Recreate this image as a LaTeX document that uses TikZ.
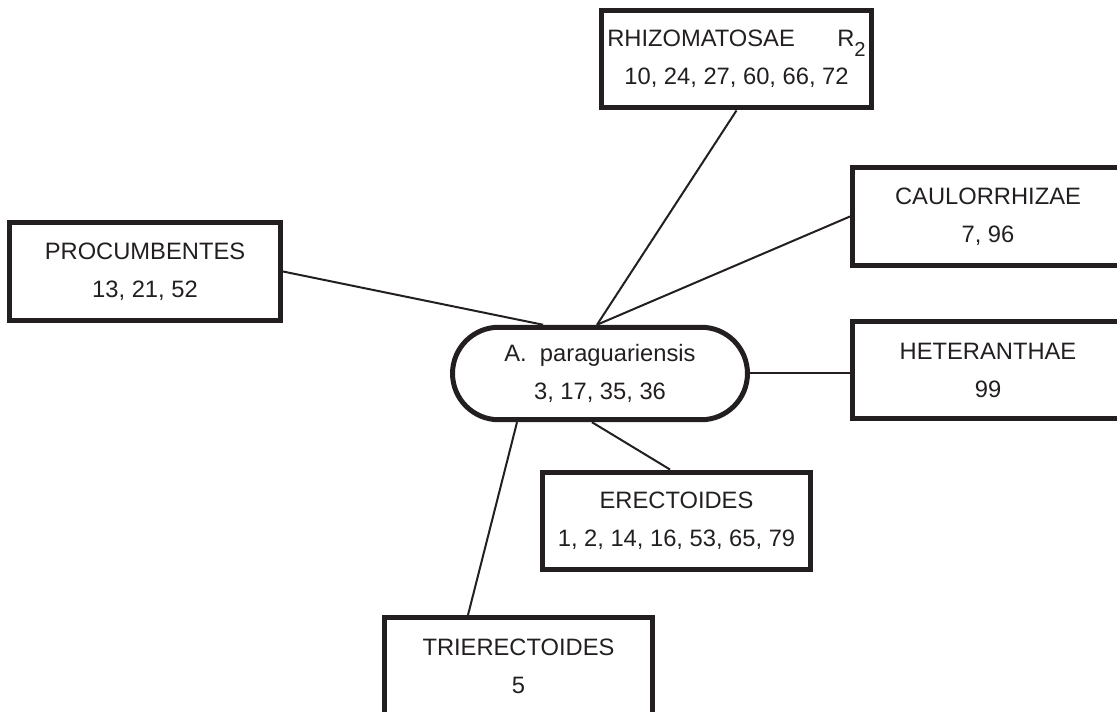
\documentclass[tikz,border=0pt]{standalone}
\usepackage{fontspec}
\setmainfont{Liberation Sans}
\usetikzlibrary{shapes.misc}
\definecolor{ink}{HTML}{231F20}
\newcommand{\lowtwo}{\raisebox{-0.4em}{\fontsize{11.5}{12}\selectfont 2}}

\begin{document}
\begin{tikzpicture}[x=0.02cm,y=-0.02cm,
        groupbox/.style={draw=ink, line width=0.1cm, minimum width=5.42cm,
            minimum height=1.96cm, inner sep=0pt, align=center, text=ink,
            font=\fontsize{13.5}{21.6}\selectfont},
        speciesbox/.style={groupbox, rounded rectangle, minimum width=5.9cm,
            minimum height=1.85cm},
        link/.style={draw=ink, line width=0.04cm}]
        % Page size of the reference
        \useasboundingbox (0,0) rectangle (1117,712);
        \clip (0,0) rectangle (1117,712);
        % Species in the middle
        \node[speciesbox] (para) at (600,373.5) {A.\ \ paraguariensis\\3, 17, 35, 36};
        % Sections round it
        \node[groupbox] (rhiz) at (736.5,59) {RHIZOMATOSAE\hspace{0.85cm}R\lowtwo\\10, 24, 27, 60, 66, 72};
        \node[groupbox] (caul) at (988,216.5) {CAULORRHIZAE\\7, 96};
        \node[groupbox] (proc) at (145,271.5) {PROCUMBENTES\\13, 21, 52};
        \node[groupbox] (heter) at (988,370) {HETERANTHAE\\99};
        \node[groupbox, minimum width=5.36cm] (erect) at (676.5,521) {ERECTOIDES\\1, 2, 14, 16, 53, 65, 79};
        \node[groupbox, minimum width=5.36cm] (trier) at (518.5,666.5) {TRIERECTOIDES\\5};
        % Links to the species
        \draw[link] (proc.east) -- ([xshift=-1.14cm]para.north);
        \draw[link] (rhiz.south) -- ([xshift=-0.06cm]para.north);
        \draw[link] (caul.west) -- ([xshift=-0.06cm]para.north);
        \draw[link] (para.east) -- (para.east -| heter.west);
        \draw[link] ([xshift=-0.16cm]para.south) -- ([xshift=-0.13cm]erect.north);
        \draw[link] ([xshift=-1.66cm]para.south) -- ([xshift=-1.01cm]trier.north);
    \end{tikzpicture}
\end{document}
